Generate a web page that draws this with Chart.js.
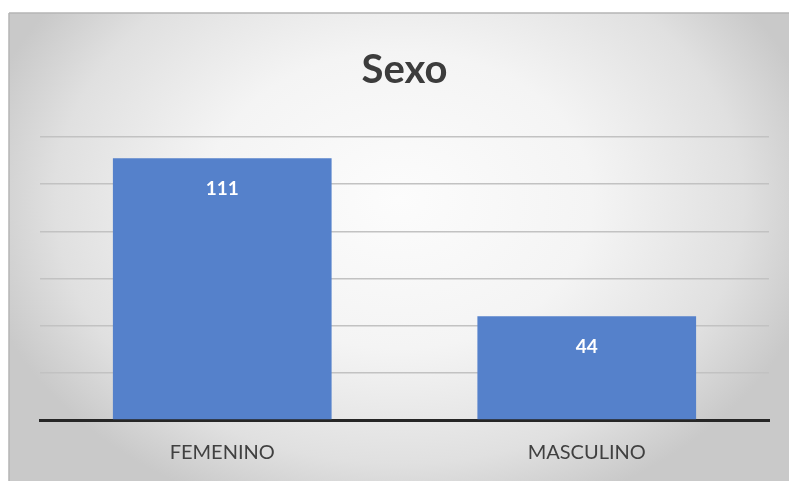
<!DOCTYPE html>
<html>
<head>
<meta charset="utf-8">
<script src="https://cdn.jsdelivr.net/npm/chart.js@4.4.0/dist/chart.umd.min.js"></script>
<style>
  html, body { margin: 0; padding: 0; background: #fff; }
  #wrap { width: 789px; height: 481px; position: relative; }
</style>
</head>
<body>
<div id="wrap"><canvas id="sexoChart" width="789" height="481"></canvas></div>
<script>
const categories = ['FEMENINO', 'MASCULINO'];
const counts = [111, 44];
const yTicks = [0, 20, 40, 60, 80, 100, 120];

// gray panel with a soft light spot in the middle
const panelBackground = {
    id: 'panelBackground',
    beforeDraw(chart) {
        const ctx = chart.ctx;
        const w = chart.width, h = chart.height;
        ctx.save();
        ctx.fillStyle = '#ffffff';
        ctx.fillRect(0, 0, w, h);
        const x0 = 9, y0 = 13;
        const cx = (x0 + w) / 2, cy = 200;
        const rx = 430, ry = 330;
        ctx.save();
        ctx.beginPath();
        ctx.rect(x0, y0, w - x0, h - y0);
        ctx.clip();
        ctx.translate(cx, cy);
        ctx.scale(1, ry / rx);
        const g = ctx.createRadialGradient(0, 0, 0, 0, 0, rx);
        g.addColorStop(0, '#fcfcfc');
        g.addColorStop(0.45, '#f4f4f4');
        g.addColorStop(0.8, '#e0e0e0');
        g.addColorStop(1, '#c9c9c9');
        ctx.fillStyle = g;
        ctx.fillRect(-rx * 1.2, -rx * 1.5, rx * 2.4, rx * 3);
        ctx.restore();
        ctx.strokeStyle = '#b5b5b5';
        ctx.lineWidth = 1.5;
        ctx.beginPath();
        ctx.moveTo(x0, y0);
        ctx.lineTo(w, y0);
        ctx.moveTo(x0, y0);
        ctx.lineTo(x0, h);
        ctx.stroke();
        ctx.restore();
    }
};

// value written in white just under the top of each bar
const barValues = {
    id: 'barValues',
    afterDatasetsDraw(chart) {
        const ctx = chart.ctx;
        const meta = chart.getDatasetMeta(0);
        ctx.save();
        ctx.fillStyle = '#ffffff';
        ctx.font = 'bold 19px Lato';
        ctx.textAlign = 'center';
        ctx.textBaseline = 'middle';
        meta.data.forEach((bar, i) => {
            ctx.fillText(String(counts[i]), bar.x, bar.y + 31);
        });
        ctx.restore();
    }
};

new Chart(document.getElementById('sexoChart'), {
    type: 'bar',
    data: {
        labels: categories,
        datasets: [{
            data: counts,
            backgroundColor: '#5581cb',
            borderWidth: 0,
            barPercentage: 0.6,
            categoryPercentage: 1
        }]
    },
    options: {
        responsive: false,
        animation: false,
        layout: { padding: { left: 40, right: 20, top: 46, bottom: 14 } },
        plugins: {
            legend: { display: false },
            tooltip: { enabled: false },
            title: {
                display: true,
                text: 'Sexo',
                color: '#3c3c3c',
                font: { family: 'Lato', size: 40, weight: 'bold' },
                padding: { top: 0, bottom: 43 }
            }
        },
        scales: {
            x: {
                afterFit(axis) {
                    axis.height = 47;
                },
                grid: { display: false, drawTicks: false },
                border: { display: true, color: '#262626', width: 3 },
                ticks: {
                    color: '#404040',
                    font: { family: 'Lato', size: 20 },
                    padding: 21
                }
            },
            y: {
                min: yTicks[0],
                max: yTicks[yTicks.length - 1],
                afterBuildTicks(axis) {
                    axis.ticks = yTicks.map(v => ({ value: v }));
                },
                grid: { color: '#c2c2c2', lineWidth: 1.5, drawTicks: false },
                border: { display: false },
                ticks: { display: false }
            }
        }
    },
    plugins: [panelBackground, barValues]
});
</script>
</body>
</html>
